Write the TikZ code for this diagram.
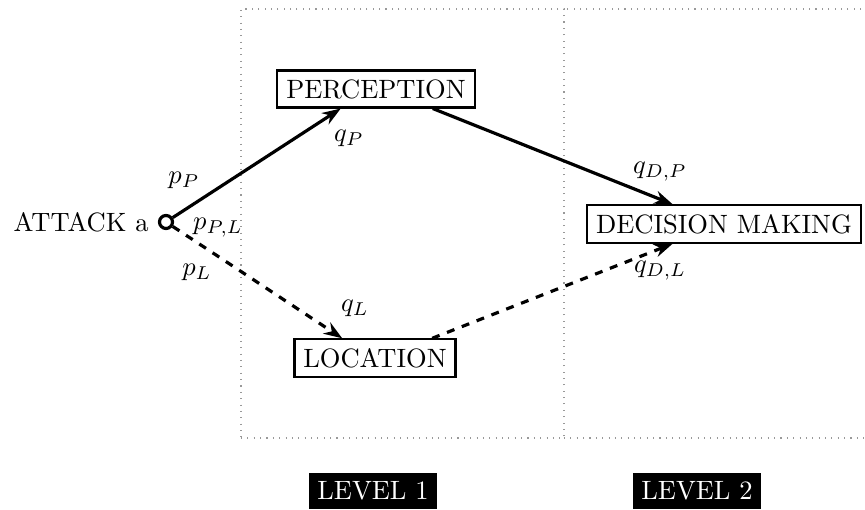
\documentclass[tikz,border=0pt]{standalone}
\usepackage{tikz}
\usetikzlibrary{calc}
\usetikzlibrary{arrows.meta}
\usetikzlibrary{positioning}
\usepackage{amsmath}

\begin{document}
\begin{tikzpicture}[x = 0.377pt, y = 0.377pt,
    box/.style = {draw, thick},
    lvl/.style = {fill=black, text=white},
    arr/.style = {-{Stealth[length=7pt,width=5pt]}, very thick}]
    \clip (0,0) rectangle (865,510);

    % levels
    \draw[gray!80, dotted](241,72)--(564,72)--(564,501)--(241,501)--(241,72);
    \draw[gray!80, dotted](564,72)--(880,72)--(880,501)--(564,501);
    \node[lvl] at (373,19) (lvl1) {LEVEL 1};
    \node[lvl] at (697,19) (lvl2) {LEVEL 2};

    % nodes
    \node[circle, draw, very thick, minimum size=13pt*0.377, inner sep=0pt] at (166,288) (atk) {};
    \node[left=0pt of atk] (atktxt) {ATTACK a};
    \node[box] at (376,421) (perc) {PERCEPTION};
    \node[box] at (375,152) (loc) {LOCATION};
    \node[box] at (724,286) (dec) {DECISION MAKING};

    % edges
    \draw[arr] (atk) -- (perc.209);
    \draw[arr] (perc.-19) -- (dec.159);
    \draw[arr, dashed] (atk) -- (loc.149);
    \draw[arr, dashed] (loc.19) -- (dec.201);

    \node at (184,330) (pP) {$p_P$};
    \node at (218,282) (pPL) {$p_{P,L}$};
    \node at (197,238) (pL) {$p_L$};
    \node at (349,372) (qP) {$q_P$};
    \node at (355,202) (qL) {$q_L$};
    \node at (660,338) (qDP) {$q_{D,P}$};
    \node at (660,239) (qDL) {$q_{D,L}$};

\end{tikzpicture}
\end{document}
